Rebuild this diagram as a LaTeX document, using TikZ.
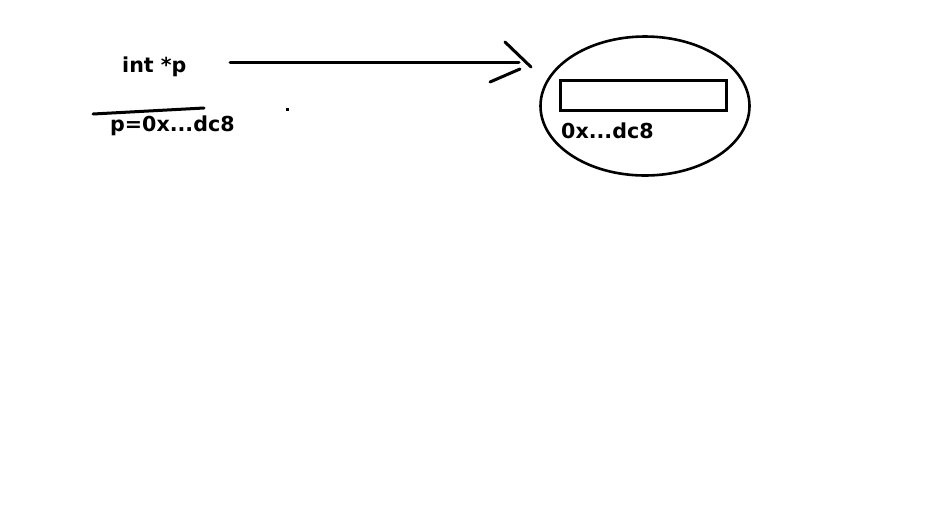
\documentclass[tikz,border=0pt]{standalone}
\usepackage{fontspec}
\setmainfont{DejaVu Sans}
\usetikzlibrary{shapes.geometric}
\begin{document}
\begin{tikzpicture}[x=1pt,y=-1pt,
  lbl/.style={inner sep=0pt,anchor=base west,font=\fontsize{20.6}{24}\selectfont\bfseries},
  pen/.style={line width=3pt,line cap=round},
  thinpen/.style={line width=2.6pt}]
\useasboundingbox[fill=white] (0,0) rectangle (940,523);
\node[lbl] (decl) at (122,72) {int *p};
\node[lbl] (assign) at (110,131) {p=0x...dc8};
\node[lbl] (addr) at (561,138) {0x...dc8};
\node[draw,thinpen,ellipse,minimum width=209,minimum height=139,inner sep=0pt] (mem) at (645,106) {};
\node[draw,thinpen,rectangle,minimum width=166,minimum height=30,inner sep=0pt] (cell) at (643.5,95.5) {};
\coordinate (tail) at (230,62);
\coordinate (tip) at (519,62);
\coordinate (hu) at (505,42);
\coordinate (hp) at (531,67);
\coordinate (ld) at (490,82);
\coordinate (lp) at (520,69);
\draw[pen] (tail) -- (tip);
\draw[pen] (hu) -- (hp);
\draw[pen] (ld) -- (lp);
\coordinate (s1) at (93,114);
\coordinate (s2) at (204,108);
\draw[pen] (s1) -- (s2);
\fill (285.5,107.5) rectangle (288.5,110.5);
\end{tikzpicture}
\end{document}
